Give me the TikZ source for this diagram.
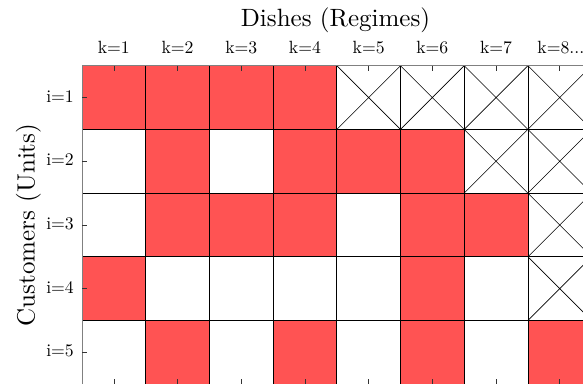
\documentclass[tikz,border=0pt]{standalone}
\usepackage{fontspec}
\setmainfont{lmroman10-regular.otf}
\definecolor{myred}{RGB}{255,83,83}
\definecolor{spine}{RGB}{128,128,128}
\tikzset{
  cell/.style={minimum size=63.7pt, inner sep=0pt, outer sep=0pt, draw=black, line width=0.7pt},
  cellr/.style={cell, fill=myred},
  cellw/.style={cell, fill=white},
  cellx/.style={cell, fill=white, path picture={
      \draw[line width=0.6pt] (path picture bounding box.north west) -- (path picture bounding box.south east)
                              (path picture bounding box.north east) -- (path picture bounding box.south west);}},
  tick/.style={line width=0.6pt, draw=black!80},
  ticklab/.style={font=\fontsize{17.7}{20}\selectfont, inner sep=0pt},
  axlab/.style={font=\fontsize{25}{29}\selectfont, inner sep=0pt}
}
\begin{document}
\begin{tikzpicture}[x=1pt,y=-1pt]
\useasboundingbox (0,0) rectangle (583,383);
\begin{scope}
\clip (0,0) rectangle (583,383);
\foreach \row [count=\i] in {{r,r,r,r,x,x,x,x},{w,r,w,r,r,r,x,x},{w,r,r,r,w,r,r,x},{r,w,w,w,w,r,w,x},{w,r,w,r,w,r,w,r}} {
  \foreach \v [count=\k] in \row {
    \node[cell\v] (c-\i-\k) at ({82+63.7*(\k-0.5)},{65.7+63.7*(\i-0.5)}) {};
  }
}
% spines
\draw[spine, line width=1pt] (c-5-1.south west) -- (c-1-1.north west) -- (c-1-8.north east);
% ticks
\foreach \k in {1,...,8} {
  \draw[tick] (c-1-\k.north) -- ++(0,5);
  \draw[tick] (c-5-\k.south) -- ++(0,-5);
}
\foreach \i in {1,...,5} {
  \draw[tick] (c-\i-1.west) -- ++(5,0);
}
\end{scope}
% tick labels
\foreach \k in {1,...,7} {
  \node[ticklab, anchor=base] (k\k) at ([yshift=12.4pt]c-1-\k.north) {k=\k};
}
\node[ticklab, anchor=base west] (k8) at ([xshift=-22.5pt,yshift=12.4pt]c-1-8.north) {k=8...};
\foreach \i in {1,...,5} {
  \node[ticklab, anchor=base east] (i\i) at ([xshift=-8pt,yshift=-4.5pt]c-\i-1.west) {i=\i};
}
\node[axlab, anchor=base] (title) at (335.5,26.5) {Dishes (Regimes)};
\node[axlab, anchor=base, rotate=90] (ylab) at (34.5,225) {Customers (Units)};
\end{tikzpicture}
\end{document}
